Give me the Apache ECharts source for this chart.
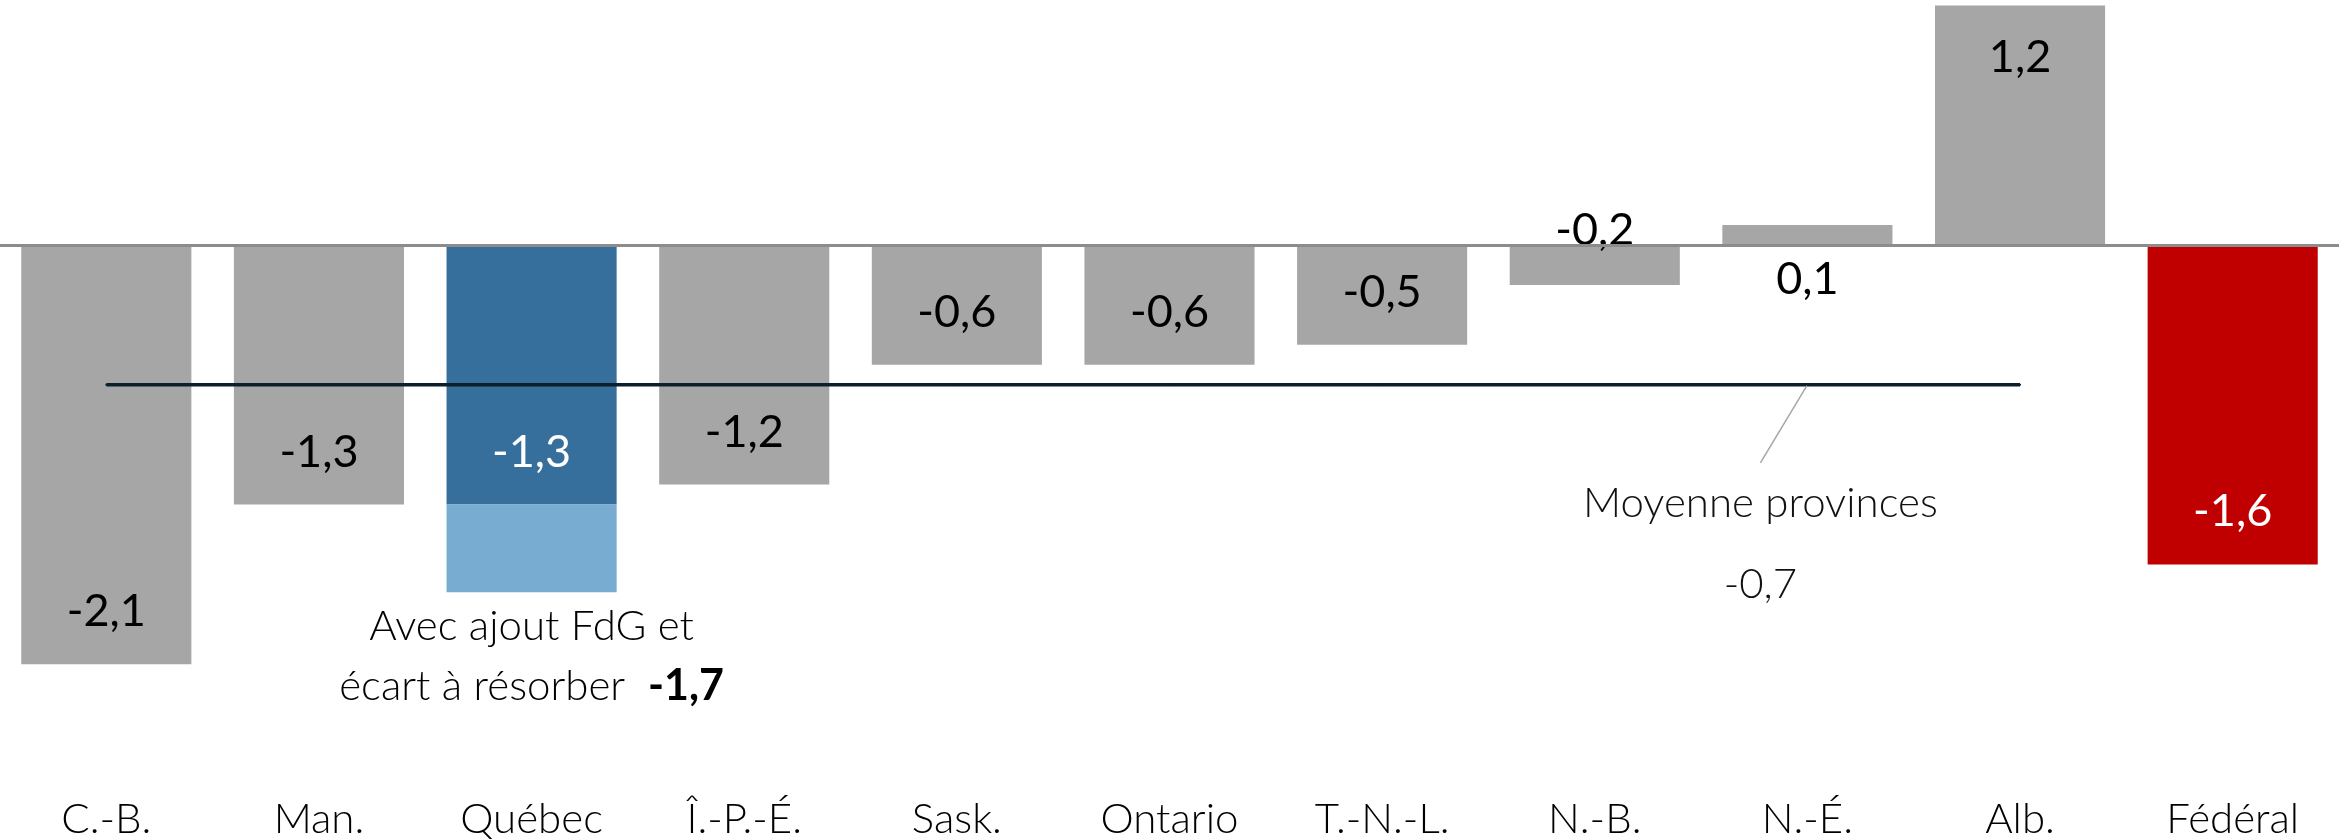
<!DOCTYPE html>
<html><head><meta charset="utf-8">
<script src="https://cdn.jsdelivr.net/npm/echarts@6/dist/echarts.min.js"></script>
<style>html,body{margin:0;padding:0;background:#fff}#c{width:2339px;height:840px}</style>
</head><body><div id="c"></div>
<script>
// ---- data ----
const categories = ['C.-B.', 'Man.', 'Québec', 'Î.-P.-É.', 'Sask.', 'Ontario', 'T.-N.-L.', 'N.-B.', 'N.-É.', 'Alb.', 'Fédéral'];
const balances = [-2.1, -1.3, -1.3, -1.2, -0.6, -0.6, -0.5, -0.2, 0.1, 1.2, -1.6];
const quebecWithFdG = -1.74;
const provincialAverage = -0.7;
const averageLabel = 'Moyenne provinces';
const fdgLabelLines = ['Avec ajout FdG et', 'écart à résorber'];
const averageLabelCategory = 'N.-É.';

// ---- styles ----
const FONT = 'Lato, "Open Sans", sans-serif';
const GRAY = '#a6a6a6', BLUE = '#366f9b', LIGHTBLUE = '#78acd1', RED = '#c00000';
const fmt = v => v.toFixed(1).replace('.', ',');

function colorFor(c) { return c === 'Québec' ? BLUE : (c === 'Fédéral' ? RED : GRAY); }
function labelFor(c, v) {
  const white = (c === 'Québec' || c === 'Fédéral');
  let position, distance;
  if (v <= -0.3) { position = 'insideBottom'; distance = 30; }
  else if (v < 0) { position = 'top'; distance = -8; }
  else if (v < 0.3) { position = 'bottom'; distance = 12; }
  else { position = 'insideTop'; distance = 29; }
  return { show: true, position, distance, color: white ? '#fff' : '#000',
           fontSize: 45, fontFamily: FONT, fontWeight: 400, formatter: () => fmt(v) };
}

const mainData = categories.map((c, i) => ({
  value: balances[i],
  itemStyle: { color: colorFor(c) },
  label: labelFor(c, balances[i])
}));

const qi = categories.indexOf('Québec');
const extraData = categories.map((c, i) => i === qi ? {
  value: +(quebecWithFdG - balances[i]).toFixed(2),
  itemStyle: { color: LIGHTBLUE },
  label: {
    show: true, position: 'bottom', distance: 4, align: 'center',
    fontSize: 42, fontFamily: FONT, fontWeight: 300, color: '#000', lineHeight: 60,
    formatter: () => fdgLabelLines[0] + '\n' + fdgLabelLines[1] + '  {b|' + fmt(quebecWithFdG) + '}',
    rich: { b: { fontSize: 43, fontFamily: FONT, fontWeight: 'bold', color: '#000', lineHeight: 60 } }
  }
} : '-');

const avgIdx = categories.indexOf(averageLabelCategory);
const avgData = categories.map((c, i) => {
  if (c === 'Fédéral') return '-';
  if (i === avgIdx) return {
    value: provincialAverage,
    label: {
      show: true, position: 'inside', fontSize: 42, fontFamily: FONT, fontWeight: 300,
      color: '#111', lineHeight: 81,
      formatter: () => averageLabel + '\n' + fmt(provincialAverage)
    },
    labelLine: { show: true, lineStyle: { color: '#a6a6a6', width: 1.5 } }
  };
  return provincialAverage;
});

const chart = echarts.init(document.getElementById('c'));
chart.setOption({
  animation: false,
  backgroundColor: '#fff',
  grid: { left: 0, right: 0, top: 5.6, bottom: 96, containLabel: false, outerBoundsMode: 'none' },
  xAxis: {
    type: 'category', data: categories,
    axisLine: { show: false }, axisTick: { show: false },
    axisLabel: { margin: 54, fontSize: 42, fontFamily: FONT, fontWeight: 300, color: '#000' }
  },
  yAxis: { type: 'value', min: -2.5, max: 1.2, show: false, splitLine: { show: false } },
  series: [
    {
      type: 'bar', stack: 'q', data: mainData, barWidth: '80%', z: 2,
      emphasis: { disabled: true },
      markLine: {
        silent: true, symbol: ['none', 'none'], label: { show: false },
        lineStyle: { color: '#8c8c8c', width: 3, type: 'solid' },
        data: [{ yAxis: 0 }]
      }
    },
    {
      type: 'bar', stack: 'q', data: extraData, barWidth: '80%', z: 2,
      emphasis: { disabled: true }
    },
    {
      type: 'line', data: avgData, z: 5, symbol: 'circle', symbolSize: 2, showSymbol: true,
      lineStyle: { color: '#0d1f2b', width: 3.5 }, itemStyle: { color: '#0d1f2b' },
      label: { show: false },
      labelLayout: { dx: -47, dy: 159 },
      emphasis: { disabled: true }
    }
  ]
});
</script></body></html>
